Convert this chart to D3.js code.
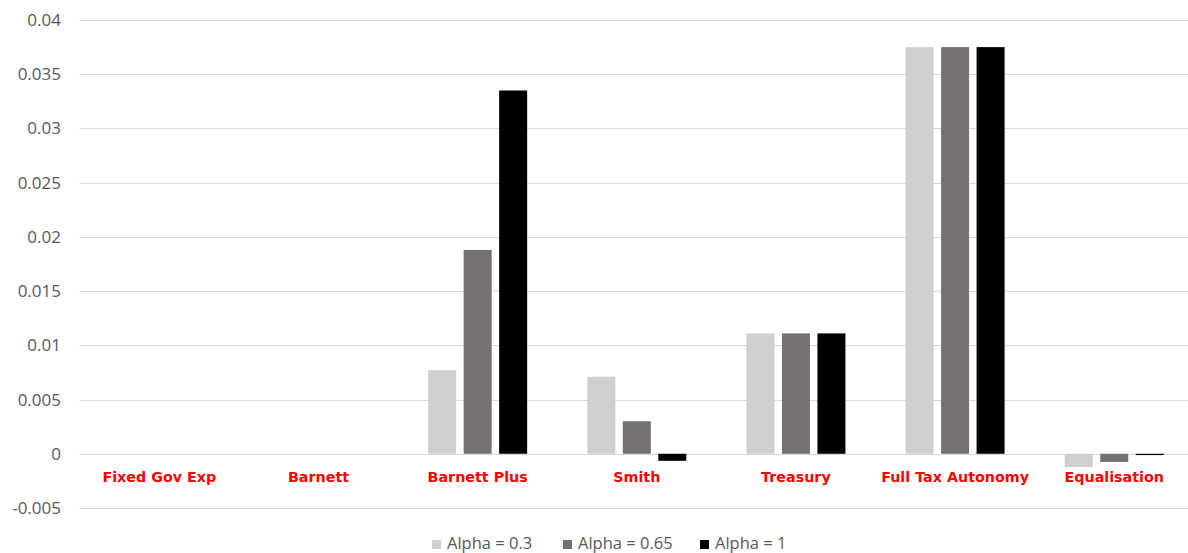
<!DOCTYPE html>
<html><head><meta charset="utf-8">
<script src="https://cdn.jsdelivr.net/npm/d3@7"></script>
<style>body{margin:0;background:#fff;}svg{display:block;}</style>
</head><body>
<svg id="c" width="1188" height="553"></svg>
<script>
const categories = ["Fixed Gov Exp","Barnett","Barnett Plus","Smith","Treasury","Full Tax Autonomy","Equalisation"];
const seriesNames = ["Alpha = 0.3","Alpha = 0.65","Alpha = 1"];
const alpha03  = [0, 0, 0.0077, 0.0071, 0.0111, 0.0375, -0.00122];
const alpha065 = [0, 0, 0.0188, 0.0030, 0.0111, 0.0375, -0.00075];
const alpha1   = [0, 0, 0.0335, -0.00065, 0.0111, 0.0375, -0.00012];
const yTicks = [-0.005,0,0.005,0.01,0.015,0.02,0.025,0.03,0.035,0.04];
const colors = ["#D0CECE","#767171","#000000"];
const series = [alpha03, alpha065, alpha1];

(function(){
const svg = d3.select("#c");
const mLeft = 79.8, mRight = 1193.8, mTop = 20, mBottom = 508;
const y = d3.scaleLinear().domain([-0.005, 0.04]).range([mBottom, mTop]);
const x0 = d3.scaleBand().domain(categories).range([mLeft, mRight]).paddingInner(0.378).paddingOuter(0.189);
const x1 = d3.scaleBand().domain(d3.range(3)).range([0, x0.bandwidth()]).paddingInner(0.211);

svg.append("g").selectAll("line").data(yTicks).join("line")
  .attr("x1", mLeft).attr("x2", mRight)
  .attr("y1", d => Math.round(y(d)) + 0.5).attr("y2", d => Math.round(y(d)) + 0.5)
  .attr("stroke", "#D9D9D9").attr("stroke-width", 1);

svg.append("g").selectAll("text").data(yTicks).join("text")
  .attr("x", 61).attr("y", d => y(d)).attr("dy", "0.35em")
  .attr("text-anchor", "end")
  .attr("font-family", "'Open Sans', 'Liberation Sans', sans-serif").attr("font-size", 17)
  .attr("fill", "#595959")
  .text(d => d === 0 ? "0" : String(+d.toFixed(3)));

const g = svg.append("g");
categories.forEach((c, i) => {
  series.forEach((s, j) => {
    const v = s[i];
    if (v === 0) return;
    g.append("rect")
      .attr("x", x0(c) + x1(j))
      .attr("width", x1.bandwidth())
      .attr("y", y(Math.max(0, v)))
      .attr("height", Math.abs(y(v) - y(0)))
      .attr("fill", colors[j]);
  });
});

svg.append("g").selectAll("text").data(categories).join("text")
  .attr("x", d => x0(d) + x0.bandwidth() / 2)
  .attr("y", 477)
  .attr("dy", "0.35em")
  .attr("text-anchor", "middle")
  .attr("font-family", "'DejaVu Sans', Verdana, sans-serif").attr("font-weight", "bold")
  .attr("font-size", 14.3).attr("fill", "#FF0000")
  .text(d => d);

const legX = [432, 563, 700];
const leg = svg.append("g");
seriesNames.forEach((n, j) => {
  leg.append("rect").attr("x", legX[j]).attr("y", 540).attr("width", 9).attr("height", 9).attr("fill", colors[j]);
  leg.append("text").attr("x", legX[j] + 15).attr("y", 543.5).attr("dy", "0.35em")
    .attr("font-family", "'Open Sans', 'Liberation Sans', sans-serif").attr("font-size", 16.5)
    .attr("fill", "#595959").text(n);
});
})();
</script>
</body></html>
